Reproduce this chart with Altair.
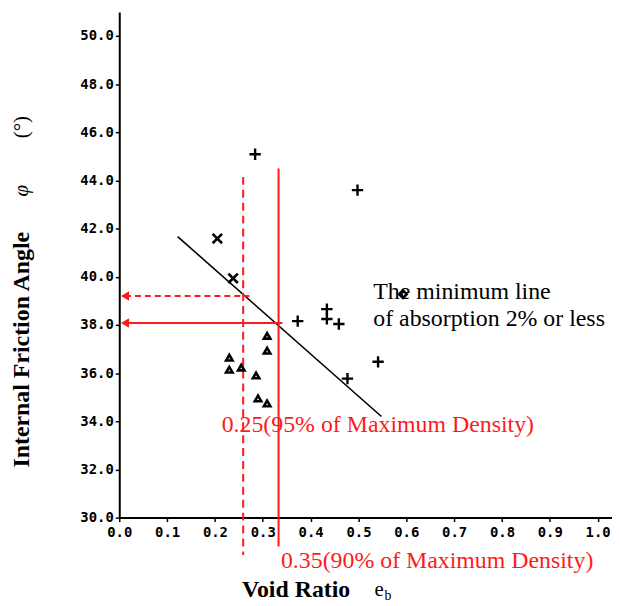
import altair as alt
import pandas as pd

# ---- data ----
plus_x = [0.284, 0.498, 0.373, 0.434, 0.434, 0.459, 0.541, 0.477]
plus_y = [45.09, 43.60, 38.16, 38.66, 38.25, 38.04, 36.47, 35.77]
cross_x = [0.205, 0.238]
cross_y = [41.59, 39.94]
tri_x = [0.309, 0.309, 0.230, 0.230, 0.255, 0.286, 0.290, 0.309]
tri_y = [37.55, 36.93, 36.64, 36.14, 36.23, 35.90, 34.95, 34.74]
diam_x = [0.593]
diam_y = [39.28]

min_line_x = [0.122, 0.548]
min_line_y = [41.67, 34.20]

dash_v_x = 0.259
dash_v_y = [44.15, 28.45]
solid_v_x = 0.333
solid_v_y = [44.50, 28.80]
dash_h_y = 39.2
dash_h_x = [0.012, 0.272]
solid_h_y = 38.08
solid_h_x = [0.012, 0.341]

x_ticks = [round(i * 0.1, 1) for i in range(11)]
y_ticks = list(range(30, 51, 2))

RED = "#ff1a1a"
xs = alt.Scale(domain=[0, 1.03], nice=False, zero=False)
ys = alt.Scale(domain=[30, 51], nice=False, zero=False)

df_plus = pd.DataFrame({"x": plus_x, "y": plus_y})
df_cross = pd.DataFrame({"x": cross_x, "y": cross_y})
df_tri = pd.DataFrame({"x": tri_x, "y": tri_y})
df_diam = pd.DataFrame({"x": diam_x, "y": diam_y})

X = alt.X("x:Q", scale=xs,
          axis=alt.Axis(values=x_ticks, format=".1f", title=None, grid=False,
                        domainColor="black", domainWidth=2, tickColor="black",
                        tickWidth=1.5, tickSize=4, labelFont="DejaVu Sans Mono",
                        labelFontWeight="bold", labelFontSize=14, labelColor="black",
                        labelPadding=4, labelFlush=False))
Y = alt.Y("y:Q", scale=ys,
          axis=alt.Axis(values=y_ticks, format=".1f", title=None, grid=False,
                        domainColor="black", domainWidth=2, tickColor="black",
                        tickWidth=1.5, tickSize=4, labelFont="DejaVu Sans Mono",
                        labelFontWeight="bold", labelFontSize=14, labelColor="black",
                        labelPadding=2))

plus = alt.Chart(df_plus).mark_point(
    shape="M-1,0L1,0M0,-1L0,1", size=130, strokeWidth=2.4, color="black",
    filled=False, opacity=1
).encode(x=X, y=Y)
cross = alt.Chart(df_cross).mark_point(
    shape="M-1,-1L1,1M-1,1L1,-1", size=90, strokeWidth=2.6, color="black",
    filled=False, opacity=1
).encode(x="x:Q", y="y:Q")
tri = alt.Chart(df_tri).mark_point(
    shape="triangle-up", size=42, strokeWidth=2.6, color="black",
    filled=False, opacity=1
).encode(x="x:Q", y="y:Q")
diam = alt.Chart(df_diam).mark_point(
    shape="diamond", size=60, strokeWidth=2.5, color="black",
    filled=False, opacity=1
).encode(x="x:Q", y="y:Q")

df_ml = pd.DataFrame({"x": [min_line_x[0]], "x2": [min_line_x[1]],
                      "y": [min_line_y[0]], "y2": [min_line_y[1]]})
min_line = alt.Chart(df_ml).mark_rule(color="black", strokeWidth=1.6).encode(
    x="x:Q", x2="x2:Q", y="y:Q", y2="y2:Q")

df_dv = pd.DataFrame({"x": [dash_v_x], "y": [dash_v_y[0]], "y2": [dash_v_y[1]]})
dash_v = alt.Chart(df_dv).mark_rule(color=RED, strokeWidth=2, strokeDash=[8, 5]).encode(
    x="x:Q", y="y:Q", y2="y2:Q")
df_sv = pd.DataFrame({"x": [solid_v_x], "y": [solid_v_y[0]], "y2": [solid_v_y[1]]})
solid_v = alt.Chart(df_sv).mark_rule(color=RED, strokeWidth=2).encode(
    x="x:Q", y="y:Q", y2="y2:Q")
df_dh = pd.DataFrame({"x": [dash_h_x[0]], "x2": [dash_h_x[1]], "y": [dash_h_y]})
dash_h = alt.Chart(df_dh).mark_rule(color=RED, strokeWidth=2, strokeDash=[6, 4]).encode(
    x="x:Q", x2="x2:Q", y="y:Q")
df_sh = pd.DataFrame({"x": [solid_h_x[0]], "x2": [solid_h_x[1]], "y": [solid_h_y]})
solid_h = alt.Chart(df_sh).mark_rule(color=RED, strokeWidth=2).encode(
    x="x:Q", x2="x2:Q", y="y:Q")

df_arrow = pd.DataFrame({"x": [dash_h_x[0], solid_h_x[0]], "y": [dash_h_y, solid_h_y]})
arrows = alt.Chart(df_arrow).mark_point(
    shape="triangle-left", size=90, filled=True, color=RED, opacity=1
).encode(x="x:Q", y="y:Q")

# annotations in data coordinates
ann_black = pd.DataFrame({
    "x": [0.531, 0.531],
    "y": [39.36, 38.25],
    "t": ["The minimum line", "of absorption 2% or less"],
})
txt_black = alt.Chart(ann_black).mark_text(
    font="Liberation Serif", fontSize=24, align="left", baseline="middle", color="black"
).encode(x="x:Q", y="y:Q", text="t:N")

ann_red = pd.DataFrame({
    "x": [0.214, 0.338],
    "y": [33.83, 28.19],
    "t": ["0.25(95% of Maximum Density)", "0.35(90% of Maximum Density)"],
})
txt_red = alt.Chart(ann_red).mark_text(
    font="Liberation Serif", fontSize=24, align="left", baseline="middle", color=RED
).encode(x="x:Q", y="y:Q", text="t:N")

# axis titles
void_t = alt.Chart().mark_text(
    text="Void Ratio", font="Liberation Serif", fontSize=24, fontWeight="bold",
    align="center", baseline="middle", color="black"
).encode(x=alt.value(178), y=alt.value(582))
e_t = alt.Chart().mark_text(
    text="e", font="Liberation Serif", fontSize=21, align="left",
    baseline="middle", color="black"
).encode(x=alt.value(257), y=alt.value(582))
b_t = alt.Chart().mark_text(
    text="b", font="Liberation Serif", fontSize=14, align="left",
    baseline="middle", color="black"
).encode(x=alt.value(267), y=alt.value(588))
ifa_t = alt.Chart().mark_text(
    text="Internal Friction Angle", font="Liberation Serif", fontSize=24,
    fontWeight="bold", angle=270, align="center", baseline="middle", color="black"
).encode(x=alt.value(-98), y=alt.value(340))
phi_t = alt.Chart().mark_text(
    text="φ", font="Liberation Serif", fontSize=21, fontStyle="italic", angle=270,
    align="center", baseline="middle", color="black"
).encode(x=alt.value(-98), y=alt.value(180))
deg_t = alt.Chart().mark_text(
    text="(°)", font="Liberation Serif", fontSize=21, angle=270,
    align="center", baseline="middle", color="black"
).encode(x=alt.value(-98), y=alt.value(116))

chart = alt.layer(
    min_line, dash_v, solid_v, dash_h, solid_h, arrows,
    plus, cross, tri, diam, txt_black, txt_red,
    void_t, e_t, b_t, ifa_t, phi_t, deg_t,
).properties(
    width=496, height=509,
    autosize=alt.AutoSizeParams(type="none"),
    padding={"left": 112, "top": 2, "right": 0, "bottom": 86},
).configure(background="white").configure_view(stroke=None)

chart.save("out.html", embed_options={"renderer": "svg", "actions": False})
